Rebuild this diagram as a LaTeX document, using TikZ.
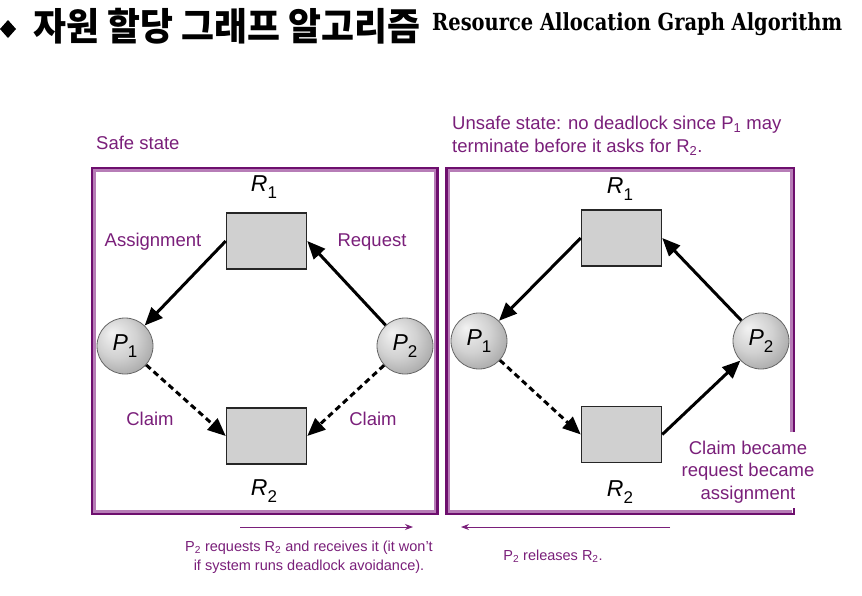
\documentclass[tikz,border=0pt]{standalone}
\usepackage{fontspec}
\setmainfont{Liberation Sans}
\newfontfamily\kr{Noto Sans CJK KR}
\newfontfamily\slab{DejaVu Serif}
\usetikzlibrary{arrows.meta}
\definecolor{pdark}{HTML}{6E0F6E}
\definecolor{plight}{HTML}{B77DB7}
\definecolor{ptext}{HTML}{7A1F7A}
\definecolor{boxgray}{HTML}{D0D0D0}
\pgfdeclareradialshading{ballgray}{\pgfpoint{-12bp}{12bp}}{color(0bp)=(black!5); color(18bp)=(black!18); color(34bp)=(black!36); color(50bp)=(black!52)}
\newcommand\PRlbl[2]{\textit{#1}\raisebox{-0.55ex}{\fontsize{17}{17}\selectfont #2}}
\tikzset{
 res/.style={draw=black!85, line width=1.5pt, fill=boxgray, minimum width=80pt, minimum height=56pt, inner sep=0pt},
 proc/.style={circle, draw=black!60, line width=0.8pt, shading=ballgray, minimum size=56pt, inner sep=0pt, font=\fontsize{23}{23}\selectfont},
 lab/.style={text=ptext, font=\fontsize{18.5}{22.5}\selectfont, inner sep=0pt},
 rlab/.style={font=\fontsize{23}{23}\selectfont, inner sep=0pt},
 edgea/.style={line width=3pt, -{Triangle[length=18pt,width=15pt]}},
 claimedge/.style={edgea, dash pattern=on 6pt off 4pt},
 frameo/.style={draw=pdark, line width=2.6pt},
 framei/.style={draw=plight, line width=2.4pt},
 note/.style={text=ptext, font=\fontsize{14.5}{18.5}\selectfont, align=center, inner sep=0pt},
 noteedge/.style={draw=ptext, line width=0.9pt, -{Stealth[length=8pt,width=6pt]}},
}
\begin{document}
\begin{tikzpicture}[x=1pt,y=-1pt]
\useasboundingbox[fill=white] (0,0) rectangle (862,595);
% title
\fill (0,29) -- (8,20) -- (16,29) -- (8,38) -- cycle;
\node[anchor=base west, inner sep=0pt] (kt) at (33,40) {\resizebox{387pt}{\height}{\kr\bfseries\fontsize{38}{38}\selectfont 자원 할당 그래프 알고리즘}};
\node[anchor=base west, inner sep=0pt] (et) at (432,30) {\resizebox{410pt}{\height}{\slab\bfseries\fontsize{23.5}{23.5}\selectfont Resource Allocation Graph Algorithm}};
% frames
\draw[frameo] (92,168) rectangle (437.5,514);
\draw[framei] (94.5,170.5) rectangle (435,511.5);
\draw[frameo] (794,432) -- (794,168) -- (446.5,168) -- (446.5,514) -- (794,514) -- (794,508);
\draw[framei] (791.5,432) -- (791.5,170.5) -- (449,170.5) -- (449,511.5) -- (791.5,511.5);
% captions
\node[lab, anchor=west] (safe) at (96,143) {Safe state};
\node[lab, anchor=west, align=left] (unsafe) at (452,136) {Unsafe state: no deadlock since P\textsubscript{1} may\\terminate before it asks for R\textsubscript{2}.};
% left graph
\node[res] (R1a) at (266.5,241) {};
\node[res] (R2a) at (266.5,436) {};
\node[rlab] (R1al) at (264,187) {\PRlbl{R}{1}};
\node[rlab] (R2al) at (264,491) {\PRlbl{R}{2}};
\node[proc] (P1a) at (125,346) {\PRlbl{P}{1}};
\node[proc] (P2a) at (405,346) {\PRlbl{P}{2}};
\draw[edgea] (R1a.west) -- (P1a);
\draw[edgea] (P2a) -- (R1a.east);
\draw[claimedge] (P1a) -- (R2a.west);
\draw[claimedge] (P2a) -- (R2a.east);
\node[lab] (asg) at (153,242) {Assignment};
\node[lab] (req) at (372,242) {Request};
\node[lab] (cl1) at (150,419) {Claim};
\node[lab] (cl2) at (373,419) {Claim};
% right graph
\node[res] (R1b) at (621.5,238) {};
\node[res] (R2b) at (621.5,434.5) {};
\node[rlab] (R1bl) at (620,189) {\PRlbl{R}{1}};
\node[rlab] (R2bl) at (620,492) {\PRlbl{R}{2}};
\node[proc] (P1b) at (479,341) {\PRlbl{P}{1}};
\node[proc] (P2b) at (761,341) {\PRlbl{P}{2}};
\draw[edgea] (R1b.west) -- (P1b);
\draw[edgea] (P2b) -- (R1b.east);
\draw[claimedge] (P1b) -- (R2b.west);
\draw[edgea] (R2b.east) -- (P2b);
\node[lab, align=center] (became) at (748,472) {Claim became\\request became\\assignment};
% bottom notes
\coordinate (a1s) at (240,527);
\coordinate (a1e) at (413,527);
\coordinate (a2s) at (670,527);
\coordinate (a2e) at (461,527);
\draw[noteedge] (a1s) -- (a1e);
\draw[noteedge] (a2s) -- (a2e);
\node[note] (n1) at (309,557) {P\textsubscript{2} requests R\textsubscript{2} and receives it (it won't\\if system runs deadlock avoidance).};
\node[note] (n2) at (553,556) {P\textsubscript{2} releases R\textsubscript{2}.};
\end{tikzpicture}
\end{document}
